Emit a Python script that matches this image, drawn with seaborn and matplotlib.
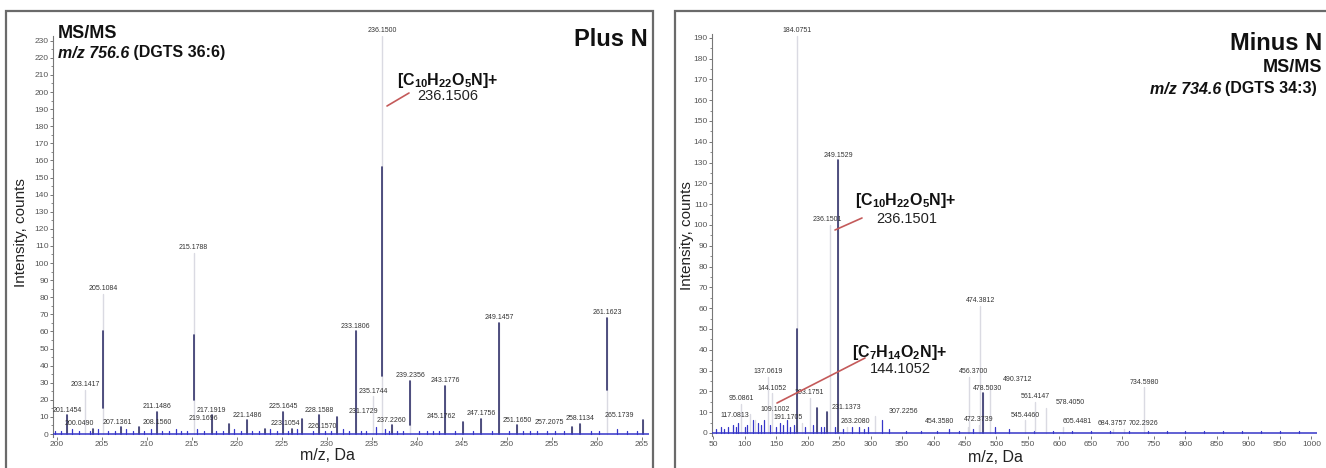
import numpy as np
import pandas as pd
import matplotlib
matplotlib.use("Agg")
import matplotlib.pyplot as plt
from matplotlib.patches import Rectangle
from matplotlib.lines import Line2D
import seaborn as sns

# ---------------- data ----------------
# Left panel (Plus N), m/z 756.6
L_mz = [201.1454, 203.1417, 204.05, 205.1084, 207.1361, 209.16, 211.1486, 215.1788,
        217.1919, 219.1696, 221.1486, 223.1054, 226.157, 225.1645, 227.2, 229.16,
        231.1729, 233.1806, 235.1744, 236.1506, 237.226, 239.2356, 243.1776, 245.1762,
        247.1756, 249.1457, 251.165, 257.2075, 258.1134, 261.1623, 265.1739]
L_int = [11, 26, 3, 82, 4, 4, 13, 106,
         11, 6, 8, 3, 3, 13, 9, 11,
         10, 60, 22, 233, 5, 31, 28, 7,
         9, 65, 5, 4, 6, 68, 8]
# visible (dark) part of each stem
L_dark_lo = [0, 0, 0, 15, 0, 0, 0, 20,
             0, 0, 0, 0, 0, 0, 0, 0,
             0, 0, 0, 34, 0, 5, 0, 0,
             0, 0, 0, 0, 0, 26, 0]
L_dark_hi = [11, 0, 3, 60, 4, 4, 13, 58,
             11, 6, 8, 3, 3, 13, 9, 11,
             10, 60, 0, 156, 5, 31, 28, 7,
             9, 65, 5, 4, 6, 68, 8]
L_labels = ["201.1454", "203.1417", "200.0490", "205.1084", "207.1361", "208.1560", "211.1486", "215.1788",
            "217.1919", "219.1696", "221.1486", "223.1054", "226.1570", "225.1645", "", "228.1588",
            "231.1729", "233.1806", "235.1744", "236.1500", "237.2260", "239.2356", "243.1776", "245.1762",
            "247.1756", "249.1457", "251.1650", "257.2075", "258.1134", "261.1623", "265.1739"]
L_minor_mz = [199.8, 200.4, 201.7, 202.4, 203.7, 204.6, 205.7, 206.4, 207.7, 208.4,
              209.7, 210.4, 211.7, 212.4, 213.2, 213.8, 214.5, 215.6, 216.3, 217.7,
              218.4, 219.7, 220.4, 221.7, 222.4, 223.7, 224.4, 225.7, 226.7, 228.4,
              229.8, 230.5, 231.8, 232.5, 233.8, 234.4, 235.5, 236.5, 236.9, 237.8,
              238.5, 240.2, 241.1, 241.8, 242.5, 244.2, 246.2, 248.3, 250.2, 251.8,
              252.6, 253.3, 254.5, 255.4, 256.3, 259.3, 260.2, 262.2, 263.3, 264.5]
L_minor_h = [2, 2, 3, 2, 2, 3, 2, 2, 3, 2,
             2, 3, 2, 2, 3, 2, 2, 3, 2, 2,
             2, 3, 2, 2, 2, 3, 2, 2, 3, 2,
             2, 2, 3, 2, 2, 2, 4, 3, 2, 2,
             2, 2, 2, 2, 2, 2, 2, 2, 2, 2,
             2, 2, 2, 2, 2, 2, 2, 3, 2, 2]

# Right panel (Minus N), m/z 734.6
R_mz = [95.0861, 109.1002, 117.0813, 137.0619, 144.1052, 184.0751, 191.1705, 203.1751,
        215.0, 231.1373, 236.1501, 249.1529, 263.208, 307.2256, 454.358, 456.37,
        472.3739, 474.3812, 478.503, 490.3712, 545.446, 561.4147, 578.405, 605.4481,
        684.3757, 702.2926, 734.598]
R_int = [14, 9, 6, 27, 19, 191, 5, 17,
         12, 10, 100, 131, 3, 8, 3, 27,
         4, 61, 19, 23, 6, 15, 12, 3,
         2, 2, 22]
R_dark_lo = [0] * 27
R_dark_hi = [0, 0, 0, 0, 0, 50, 0, 0,
             12, 10, 0, 131, 0, 0, 0, 0,
             0, 0, 19, 0, 0, 0, 0, 0,
             0, 0, 0]
R_labels = ["95.0861", "109.1002", "117.0813", "137.0619", "144.1052", "184.0751", "191.1705", "203.1751",
            "", "231.1373", "236.1501", "249.1529", "263.2080", "307.2256", "454.3580", "456.3700",
            "472.3739", "474.3812", "478.5030", "490.3712", "545.4460", "561.4147", "578.4050", "605.4481",
            "684.3757", "702.2926", "734.5980"]
R_minor_mz = [55, 62, 68, 74, 81, 86, 90, 100, 104, 113,
              121, 126, 131, 141, 150, 156, 161, 167, 172, 178,
              196, 209, 221, 226, 243, 257, 270, 281, 289, 296,
              318, 330, 356, 380, 405, 425, 440, 462, 497, 520,
              560, 590, 620, 650, 680, 710, 740, 770, 800, 830,
              860, 890, 920, 950, 980]
R_minor_h = [2, 3, 2, 3, 4, 3, 5, 3, 4, 6,
             5, 4, 6, 4, 3, 5, 4, 6, 3, 4,
             3, 4, 3, 3, 3, 2, 3, 3, 2, 3,
             6, 2, 1, 1, 1, 2, 1, 2, 3, 2,
             1, 1, 1, 1, 1, 1, 1, 1, 1, 1,
             1, 1, 1, 1, 1]

L_xticks = list(range(200, 266, 5))
L_yticks = list(range(0, 231, 10))
R_xticks = list(range(50, 1001, 50))
R_yticks = list(range(0, 191, 10))

# ---------------- style ----------------
W, H = 1326, 468
sns.set_theme(style="white")
plt.rcParams["font.family"] = ["Liberation Sans", "DejaVu Sans"]
plt.rcParams["mathtext.fontset"] = "custom"
plt.rcParams["mathtext.rm"] = "Liberation Sans:bold"
plt.rcParams["mathtext.it"] = "Liberation Sans:bold:italic"
plt.rcParams["mathtext.bf"] = "Liberation Sans:bold"

LIGHT = "#dadae2"
DARK = "#34346c"
BLUE = "#3636c8"
RED = "#c45a5a"
TXT = "#333333"

fig = plt.figure(figsize=(W / 100, H / 100), dpi=100)


def fx(x):
    return x / W


def fy(y):
    return 1 - y / H


def stems(ax, mz, lo, hi, color, lw):
    keep = [i for i in range(len(mz)) if hi[i] > lo[i]]
    df = pd.DataFrame({
        "mz": np.repeat([mz[i] for i in keep], 2),
        "y": np.ravel(np.column_stack([[lo[i] for i in keep], [hi[i] for i in keep]])),
        "peak": np.repeat(np.arange(len(keep)), 2),
    })
    sns.lineplot(data=df, x="mz", y="y", units="peak", estimator=None, sort=False,
                 color=color, lw=lw, ax=ax, legend=False)


def panel(ax, mz, inten, dlo, dhi, labels, offsets, mmz, mh, xlim, ylim, xt, yt):
    stems(ax, mmz, [0] * len(mmz), mh, BLUE, 0.9)
    stems(ax, mz, [0] * len(mz), inten, LIGHT, 1.0)
    stems(ax, mz, dlo, dhi, DARK, 1.2)
    ax.axhline(0, color=BLUE, lw=1.1, zorder=3)
    for m, v, lab in zip(mz, inten, labels):
        if not lab:
            continue
        dx, dy = offsets.get(lab, (0, 0))
        ax.annotate(lab, xy=(m, v), xytext=(dx * 0.72, 1.2 + dy * 0.72), textcoords="offset points",
                    ha="center", va="bottom", fontsize=5, color=TXT, annotation_clip=False)
    ax.set_xlim(*xlim)
    ax.set_ylim(*ylim)
    ax.set_xticks(xt)
    ax.set_yticks(yt)
    ax.set_yticks([t + 5 for t in yt[:-1]], minor=True)
    ax.tick_params(axis="both", which="major", labelsize=6, labelcolor="#555555", length=2.5,
                   width=0.7, color="#777777", pad=0.8, direction="out", bottom=True, left=True)
    ax.tick_params(axis="y", which="minor", length=1.8, width=0.6, color="#777777", left=True)
    ax.set_xlabel("")
    ax.set_ylabel("")
    for s in ["top", "right", "bottom"]:
        ax.spines[s].set_visible(False)
    ax.spines["left"].set_color("#777777")
    ax.spines["left"].set_linewidth(0.8)
    ax.set_facecolor("none")


# panel frames
fig.patches.append(Rectangle((fx(6), fy(472)), fx(647), fy(11) - fy(472), transform=fig.transFigure,
                             fill=False, edgecolor="#6a6a6a", lw=1.6))
fig.patches.append(Rectangle((fx(675), fy(472)), fx(660), fy(11) - fy(472), transform=fig.transFigure,
                             fill=False, edgecolor="#6a6a6a", lw=1.6))

# left axes
axL = fig.add_axes([fx(53.4), fy(436.6), (649 - 53.4) / W, (436.6 - 35.6) / H])
L_off = {"200.0490": (-14, 0), "207.1361": (-4, 0), "208.1560": (18, 0), "219.1696": (-26, 0),
         "223.1054": (20, 0), "226.1570": (30, -3), "231.1729": (26, 0), "245.1762": (-22, 0),
         "257.2075": (-22, 0), "265.1739": (-24, 0)}
panel(axL, L_mz, L_int, L_dark_lo, L_dark_hi, L_labels, L_off, L_minor_mz, L_minor_h,
      (199.6, 265.8), (-1.5, 233), L_xticks, L_yticks)

# right axes
axR = fig.add_axes([fx(712.4), fy(436.1), (1316.5 - 712.4) / W, (436.1 - 33.6) / H])
R_off = {"109.1002": (25, 0), "117.0813": (-20, 0), "191.1705": (-14, 0), "231.1373": (19, 0),
         "263.2080": (8, 0), "307.2256": (28, 0), "454.3580": (-28, 0), "456.3700": (4, 0),
         "478.5030": (5, 0), "490.3712": (27, 0), "578.4050": (24, 0), "605.4481": (14, 0),
         "702.2926": (20, 0), "236.1501": (-3, 0)}
panel(axR, R_mz, R_int, R_dark_lo, R_dark_hi, R_labels, R_off, R_minor_mz, R_minor_h,
      (49, 1008), (-1.5, 192), R_xticks, R_yticks)

# axis titles
fig.text(fx(21), fy(233), "Intensity, counts", rotation=90, ha="center", va="center", fontsize=11, color="#222222")
fig.text(fx(687), fy(236), "Intensity, counts", rotation=90, ha="center", va="center", fontsize=11, color="#222222")
fig.text(fx(327), fy(455), "m/z, Da", ha="center", va="center", fontsize=11.5, color="#222222")
fig.text(fx(995), fy(457), "m/z, Da", ha="center", va="center", fontsize=11.5, color="#222222")

# headers left
fig.text(fx(58), fy(33), "MS/MS", ha="left", va="center", fontsize=13, fontweight="bold", color="#111111")
t1 = fig.text(fx(58), fy(53), "m/z 756.6", ha="left", va="center", fontsize=11.5, fontweight="bold",
              fontstyle="italic", color="#111111")
axL.annotate(" (DGTS 36:6)", xy=(1, 0), xycoords=t1, ha="left", va="bottom", fontsize=11.5,
             fontweight="bold", color="#111111", annotation_clip=False)
fig.text(fx(648), fy(40), "Plus N", ha="right", va="center", fontsize=17, fontweight="bold", color="#111111")

# headers right
fig.text(fx(1322), fy(43), "Minus N", ha="right", va="center", fontsize=17, fontweight="bold", color="#111111")
fig.text(fx(1322), fy(68), "MS/MS", ha="right", va="center", fontsize=13, fontweight="bold", color="#111111")
t2 = fig.text(fx(1317), fy(89), "(DGTS 34:3)", ha="right", va="center", fontsize=11.5, fontweight="bold",
              color="#111111")
axR.annotate("m/z 734.6 ", xy=(0, 0), xycoords=t2, ha="right", va="bottom", fontsize=11.5,
             fontweight="bold", fontstyle="italic", color="#111111", annotation_clip=False)

# fragment annotations
formula_236 = r"[C$_{10}$H$_{22}$O$_{5}$N]+"
formula_144 = r"[C$_{7}$H$_{14}$O$_{2}$N]+"
fig.text(fx(397), fy(80), formula_236, ha="left", va="center", fontsize=11.5, fontweight="bold", color="#111111")
fig.text(fx(417), fy(96), "236.1506", ha="left", va="center", fontsize=10.5, color="#222222")
fig.add_artist(Line2D([fx(387), fx(409)], [fy(106), fy(93)], transform=fig.transFigure, color=RED, lw=1.2))

fig.text(fx(855), fy(201), formula_236, ha="left", va="center", fontsize=11.5, fontweight="bold", color="#111111")
fig.text(fx(876), fy(219), "236.1501", ha="left", va="center", fontsize=10.5, color="#222222")
fig.add_artist(Line2D([fx(835), fx(862)], [fy(230), fy(218)], transform=fig.transFigure, color=RED, lw=1.2))

fig.text(fx(852), fy(352), formula_144, ha="left", va="center", fontsize=11.5, fontweight="bold", color="#111111")
fig.text(fx(870), fy(369), "144.1052", ha="left", va="center", fontsize=10.5, color="#222222")
fig.add_artist(Line2D([fx(777), fx(865)], [fy(403), fy(358)], transform=fig.transFigure, color=RED, lw=1.2))

fig.savefig("out.png", dpi=100, facecolor="white")
